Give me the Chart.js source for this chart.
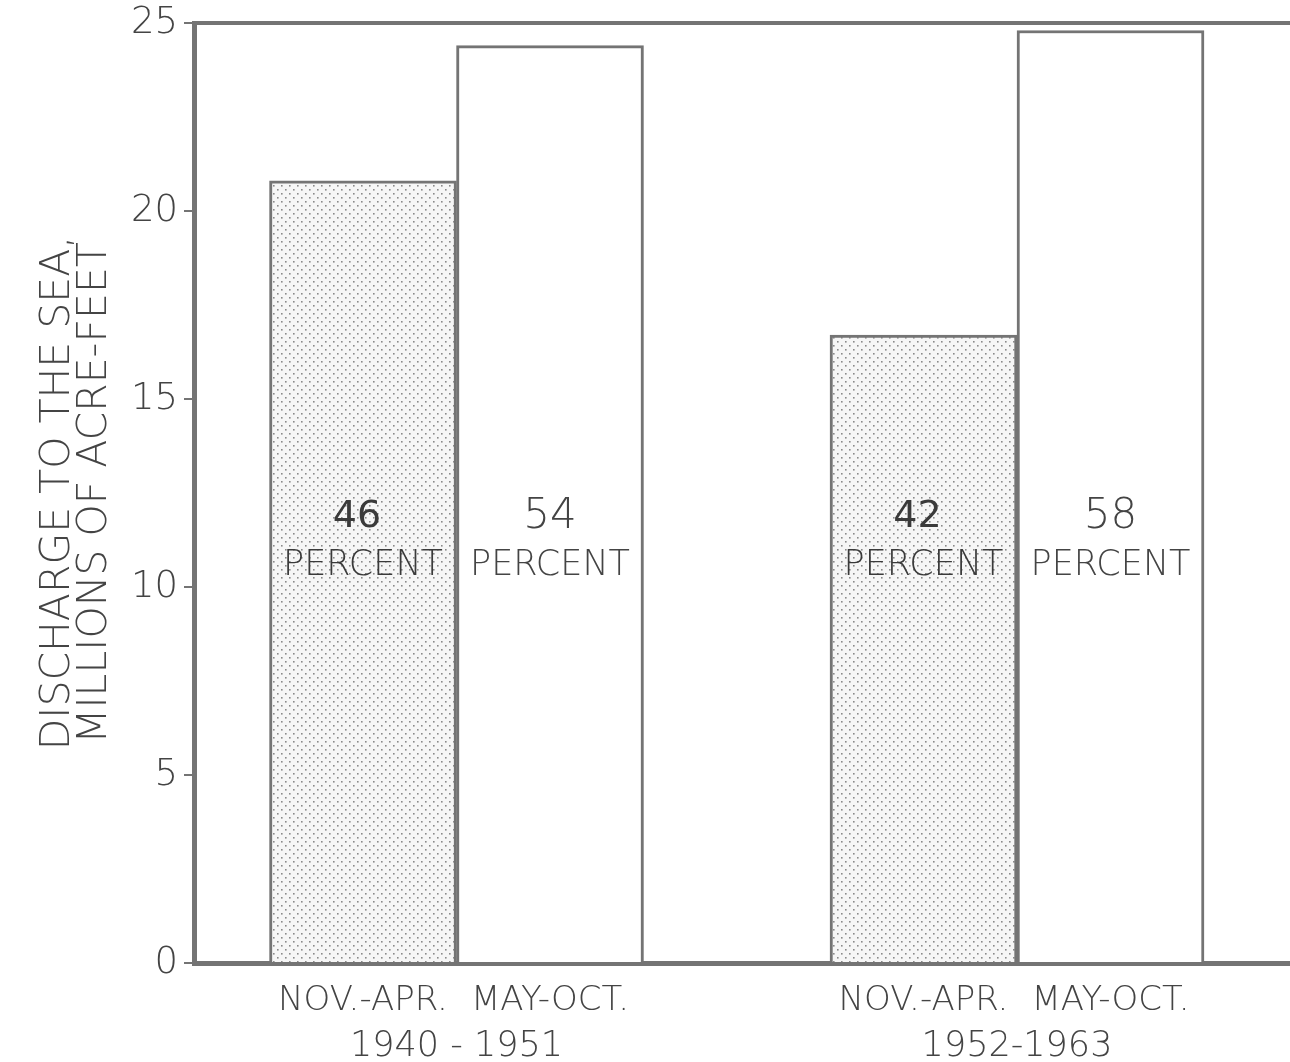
<!DOCTYPE html>
<html>
<head>
<meta charset="utf-8">
<script src="https://cdn.jsdelivr.net/npm/chart.js@4/dist/chart.umd.min.js"></script>
<style>
  html, body { margin: 0; padding: 0; background: #ffffff; }
  #wrap { width: 1290px; height: 1062px; }
</style>
</head>
<body>
<div id="wrap"><canvas id="c" width="1290" height="1062"></canvas></div>
<script>
// ---- data ----
const periods = ['1940 - 1951', '1952-1963'];
const groupX = [1, 3];
const seasons = ['NOV.-APR.', 'MAY-OCT.'];
const novAprValues = [20.8, 16.7];
const mayOctValues = [24.4, 24.8];
const novAprPercent = ['46', '42'];
const mayOctPercent = ['54', '58'];
const yTicks = [0, 5, 10, 15, 20, 25];
const yTitle = ['DISCHARGE TO THE SEA,', 'MILLIONS OF ACRE-FEET'];

const FONT = "'DejaVu Sans', 'Liberation Sans', sans-serif";
const WEIGHT = '200';
const INK = '#444444';
const LINE = '#747474';

// stipple pattern
const pc = document.createElement('canvas');
pc.width = 8; pc.height = 8;
const pctx = pc.getContext('2d');
pctx.fillStyle = '#f6f6f6';
pctx.fillRect(0, 0, 8, 8);
pctx.fillStyle = '#8a8a8a';
pctx.fillRect(1, 1, 1.6, 1.6);
pctx.fillRect(5, 5, 1.6, 1.6);
const ctx = document.getElementById('c').getContext('2d');
const stipple = ctx.createPattern(pc, 'repeat');

const percentLists = [novAprPercent, mayOctPercent];

const labelsPlugin = {
  id: 'labelsPlugin',
  afterDraw(chart) {
    const c = chart.ctx;
    const area = chart.chartArea;
    const y = chart.scales.y;
    c.save();
    // top frame line
    c.strokeStyle = LINE;
    c.lineWidth = 4;
    c.beginPath();
    c.moveTo(area.left - 2, area.top);
    c.lineTo(chart.width, area.top);
    c.stroke();

    c.textAlign = 'center';
    c.textBaseline = 'middle';
    chart.data.datasets.forEach((ds, di) => {
      const meta = chart.getDatasetMeta(di);
      meta.data.forEach((el, i) => {
        // season label under each bar
        c.fillStyle = INK;
        c.font = WEIGHT + ' 34px ' + FONT;
        c.fillText(seasons[di], el.x, area.bottom + 38);
        // percent labels inside bars
        c.fillStyle = di === 0 ? '#3a3a3a' : INK;
        c.font = (di === 0 ? 'normal' : WEIGHT) + ' ' + (di === 0 ? 38 : 42) + 'px ' + FONT;
        c.fillText(percentLists[di][i], el.x - (di === 0 ? 6 : 0), y.getPixelForValue(11.85));
        c.font = WEIGHT + ' 35px ' + FONT;
        c.fillText('PERCENT', el.x, y.getPixelForValue(10.55));
      });
    });
    c.restore();
  }
};

new Chart(ctx, {
  type: 'bar',
  data: {
    datasets: [
      {
        label: seasons[0],
        data: groupX.map((x, i) => ({ x: x, y: novAprValues[i] })),
        backgroundColor: stipple,
        borderColor: LINE,
        borderWidth: 3,
        borderSkipped: 'bottom'
      },
      {
        label: seasons[1],
        data: groupX.map((x, i) => ({ x: x, y: mayOctValues[i] })),
        backgroundColor: '#ffffff',
        borderColor: LINE,
        borderWidth: 3,
        borderSkipped: 'bottom'
      }
    ]
  },
  options: {
    responsive: false,
    animation: false,
    devicePixelRatio: 1,
    barThickness: 187,
    layout: { padding: { top: 0, right: 0, left: 0, bottom: 0 } },
    plugins: { legend: { display: false }, tooltip: { enabled: false } },
    scales: {
      x: {
        type: 'linear',
        offset: false,
        min: 0.0633,
        max: 3.9741,
        afterBuildTicks: (s) => { s.ticks = groupX.map(v => ({ value: v })); },
        afterFit: (s) => { s.height = 99; },
        grid: { display: false, drawTicks: false, offset: false },
        border: { display: true, color: LINE, width: 5 },
        ticks: {
          autoSkip: false,
          maxRotation: 0,
          padding: 63,
          color: INK,
          font: { family: FONT, size: 35, weight: WEIGHT },
          callback: (v, i) => periods[i]
        }
      },
      y: {
        min: 0,
        max: 25,
        afterBuildTicks: (s) => { s.ticks = yTicks.map(v => ({ value: v })); },
        afterFit: (s) => { s.width = 194; },
        grid: { drawOnChartArea: false, drawTicks: true, tickLength: 10, color: LINE, lineWidth: 2 },
        border: { display: true, color: LINE, width: 5 },
        ticks: {
          padding: 6,
          color: INK,
          font: { family: FONT, size: 37, weight: WEIGHT, lineHeight: '34px' }
        },
        title: {
          display: true,
          text: yTitle,
          color: INK,
          font: { family: FONT, size: 41, weight: WEIGHT, lineHeight: '37px' },
          padding: { top: 40, bottom: 0 }
        }
      }
    }
  },
  plugins: [labelsPlugin]
});
</script>
</body>
</html>
